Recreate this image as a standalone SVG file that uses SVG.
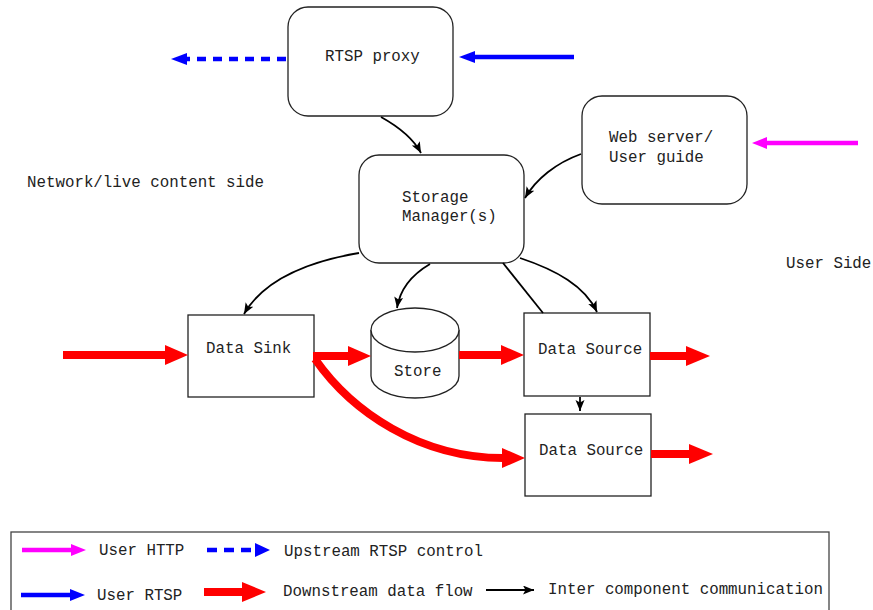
<svg xmlns="http://www.w3.org/2000/svg" width="873" height="610" viewBox="0 0 873 610">
  <style>
    .box { fill: #fff; stroke: #222; stroke-width: 1.3; }
    .lbl { font-family: "Liberation Mono", "Courier New", monospace; font-size: 15.8px; fill: #222; }
    .ctl { fill: none; stroke: #000; stroke-width: 1.8; }
    .data { fill: none; stroke: #f00; stroke-width: 8; }
    .datahead { fill: #f00; }
    .rtsp { fill: none; stroke: #00f; stroke-width: 4.5; }
    .rtsphead { fill: #00f; }
    .http { fill: none; stroke: #f0f; stroke-width: 4.5; }
    .httphead { fill: #f0f; }
  </style>
  <defs>
    <marker id="ah" markerUnits="userSpaceOnUse" markerWidth="12" markerHeight="10" refX="11" refY="4.5" orient="auto">
      <path d="M0,0 L11,4.5 L0,9 L2.5,4.5 z" fill="#000"/>
    </marker>
  </defs>

  <rect width="873" height="610" fill="#fff"/>

  <!-- side captions -->
  <text class="lbl" x="27" y="187">Network/live content side</text>
  <text class="lbl" x="786" y="268">User Side</text>

  <!-- nodes -->
  <g id="rtsp-proxy">
    <rect class="box" x="288" y="7" width="165" height="109" rx="20"/>
    <text class="lbl" x="325" y="61">RTSP proxy</text>
  </g>
  <g id="web-server">
    <rect class="box" x="582" y="96" width="165" height="108" rx="20"/>
    <text class="lbl" x="609" y="142">Web server/</text>
    <text class="lbl" x="609" y="162">User guide</text>
  </g>
  <g id="storage-manager">
    <rect class="box" x="359" y="155" width="165" height="108" rx="20"/>
    <text class="lbl" x="402" y="202">Storage</text>
    <text class="lbl" x="402" y="221">Manager(s)</text>
  </g>
  <g id="data-sink">
    <rect class="box" x="188" y="315" width="126" height="82"/>
    <text class="lbl" x="206" y="353">Data Sink</text>
  </g>
  <g id="store">
    <path class="box" d="M371,330 L371,376 A44,22 0 0 0 459,376 L459,330 A44,22 0 0 0 371,330 z"/>
    <path class="box" fill="none" d="M371,330 A44,22 0 0 0 459,330"/>
    <text class="lbl" x="394" y="376">Store</text>
  </g>
  <g id="data-source-1">
    <rect class="box" x="524" y="313" width="126" height="83"/>
    <text class="lbl" x="538" y="354">Data Source</text>
  </g>
  <g id="data-source-2">
    <rect class="box" x="525" y="414" width="126" height="82"/>
    <text class="lbl" x="539" y="455">Data Source</text>
  </g>

  <!-- connectors -->
  <g id="connectors">
    <!-- inter component communication -->
    <path class="ctl" marker-end="url(#ah)" d="M381,117 C399,127 413,138 421,153"/>
    <path class="ctl" marker-end="url(#ah)" d="M581,154 C556,163 536,179 525,198"/>
    <path class="ctl" marker-end="url(#ah)" d="M359,253 C300,263 262,283 244,314"/>
    <path class="ctl" marker-end="url(#ah)" d="M430,264 C413,274 400,289 397,308"/>
    <path class="ctl" marker-end="url(#ah)" d="M520,258 C556,270 585,286 597,312"/>
    <path class="ctl" d="M503,263 L543,313"/>
    <path class="ctl" marker-end="url(#ah)" d="M580,397 L580,411"/>

    <!-- upstream RTSP control (dashed) -->
    <path class="rtsp" stroke-dasharray="9,7" d="M286,59 L186,59"/>
    <polygon class="rtsphead" points="187,53 171,59 187,65"/>

    <!-- user RTSP -->
    <path class="rtsp" d="M574,57 L474,57"/>
    <polygon class="rtsphead" points="475,51 459,57 475,63"/>

    <!-- user HTTP -->
    <path class="http" d="M858,143 L766,143"/>
    <polygon class="httphead" points="767,137 752,143 767,149"/>

    <!-- downstream data flow -->
    <path class="data" d="M63,355 L166,355"/>
    <polygon class="datahead" points="165,345 188,355 165,365"/>
    <path class="data" d="M313,356 L349,356"/>
    <polygon class="datahead" points="348,346 371,356 348,366"/>
    <path class="data" d="M459,355 L502,355"/>
    <polygon class="datahead" points="501,345 524,355 501,365"/>
    <path class="data" d="M650,356 L687,356"/>
    <polygon class="datahead" points="686,346 710,356 686,366"/>
    <path class="data" d="M651,454 L690,454"/>
    <polygon class="datahead" points="689,444 713,454 689,464"/>
    <path class="data" d="M315,359 C352,412 420,458 503,458"/>
    <polygon class="datahead" points="502,448 525,458 502,468"/>
  </g>

  <!-- legend -->
  <g id="legend">
    <rect x="11" y="532" width="818" height="84" fill="#fff" stroke="#444" stroke-width="1.3"/>
    <path class="http" d="M22,550 L72,550"/>
    <polygon class="httphead" points="71,544 86,550 71,556"/>
    <text class="lbl" x="99" y="555">User HTTP</text>

    <path class="rtsp" stroke-dasharray="10,7" d="M207,550 L256,550"/>
    <polygon class="rtsphead" points="255,543 270,550 255,557"/>
    <text class="lbl" x="284" y="556">Upstream RTSP control</text>

    <path class="rtsp" d="M21,595 L71,595"/>
    <polygon class="rtsphead" points="70,589 85,595 70,601"/>
    <text class="lbl" x="97" y="600">User RTSP</text>

    <path class="data" d="M204,592 L243,592"/>
    <polygon class="datahead" points="242,582 266,592 242,602"/>
    <text class="lbl" x="283" y="596">Downstream data flow</text>

    <path class="ctl" marker-end="url(#ah)" d="M486,590 L534,590"/>
    <text class="lbl" x="548" y="594">Inter component communication</text>
  </g>
</svg>
